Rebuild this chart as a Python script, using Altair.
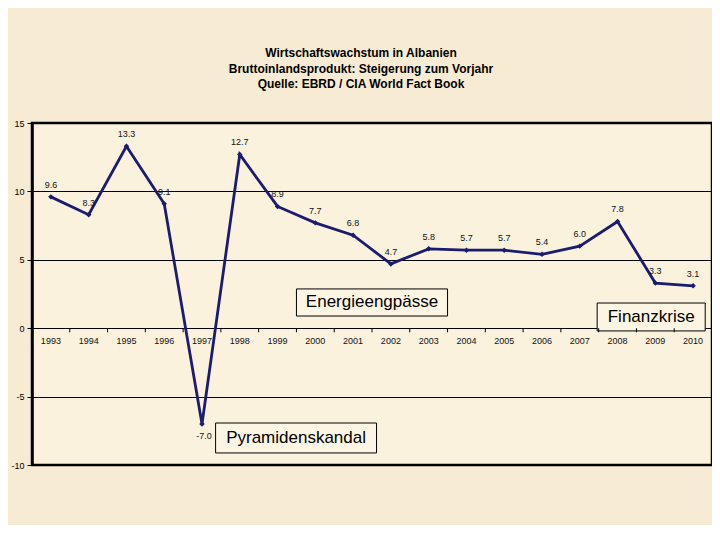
import altair as alt
import pandas as pd

years = list(range(1993, 2011))
growth = [9.6, 8.3, 13.3, 9.1, -7.0, 12.7, 8.9, 7.7, 6.8, 4.7, 5.8, 5.7, 5.7, 5.4, 6.0, 7.8, 3.3, 3.1]
tick_positions = [y + 0.5 for y in range(1992, 2011)]

notes = ["Energieengpässe", "Finanzkrise", "Pyramidenskandal"]
note_x1 = [1999.5, 2007.46, 1997.36]
note_x2 = [2003.5, 2010.32, 2001.62]
note_y1 = [2.87, 1.84, -6.93]
note_y2 = [0.89, -0.2, -9.12]

df = pd.DataFrame({"year": years, "value": growth,
                   "label": [f"{v:.1f}" for v in growth],
                   "ylab": [str(y) for y in years]})
df["zero"] = 0.0
ticks = pd.DataFrame({"pos": tick_positions, "ya": 0.0, "yb": -0.3})
nd = pd.DataFrame({"note": notes, "xa": note_x1, "xb": note_x2, "ya": note_y1, "yb": note_y2})
nd["xc"] = (nd["xa"] + nd["xb"]) / 2
nd["yc"] = (nd["ya"] + nd["yb"]) / 2

xs = alt.Scale(domain=[1992.5, 2010.5], nice=False, zero=False)
ys = alt.Scale(domain=[-10, 15], nice=False)
FONT = "Liberation Sans"
NAVY = "#1B1B70"

base = alt.Chart(df)

line = base.mark_line(color=NAVY, strokeWidth=2.8).encode(
    x=alt.X("year:Q", scale=xs, axis=None),
    y=alt.Y("value:Q", scale=ys, title=None,
            axis=alt.Axis(values=[-10, -5, 0, 5, 10, 15], grid=True, gridColor="black",
                          gridWidth=1, gridOpacity=1, domainColor="black", domainWidth=2.5,
                          tickColor="black", tickSize=5, labelFont=FONT, labelFontSize=9,
                          labelColor="black", labelPadding=3,
                          labelExpr="toString(datum.value)")),
)
pts = base.mark_point(shape="diamond", filled=True, color=NAVY, size=30, opacity=1).encode(
    x=alt.X("year:Q", scale=xs, axis=None), y=alt.Y("value:Q", scale=ys))

lab_pos = base.transform_filter("datum.value >= 0").mark_text(
    font=FONT, fontSize=9, color="#111111", dy=-12).encode(
    x=alt.X("year:Q", scale=xs, axis=None), y=alt.Y("value:Q", scale=ys), text="label:N")
lab_neg = base.transform_filter("datum.value < 0").mark_text(
    font=FONT, fontSize=9, color="#111111", dy=12, dx=2).encode(
    x=alt.X("year:Q", scale=xs, axis=None), y=alt.Y("value:Q", scale=ys), text="label:N")

year_labels = base.mark_text(font=FONT, fontSize=9, color="#111111", dy=13).encode(
    x=alt.X("year:Q", scale=xs, axis=None), y=alt.Y("zero:Q", scale=ys), text="ylab:N")

tick_rules = alt.Chart(ticks).mark_rule(color="black", strokeWidth=1).encode(
    x=alt.X("pos:Q", scale=xs, axis=None), y=alt.Y("ya:Q", scale=ys), y2="yb:Q")

boxes = alt.Chart(nd).mark_rect(fill="#FCF5E4", stroke="black", strokeWidth=1).encode(
    x=alt.X("xa:Q", scale=xs, axis=None), x2="xb:Q", y=alt.Y("ya:Q", scale=ys), y2="yb:Q")
box_text = alt.Chart(nd).mark_text(font=FONT, fontSize=17, color="black").encode(
    x=alt.X("xc:Q", scale=xs, axis=None), y=alt.Y("yc:Q", scale=ys), text="note:N")

chart = alt.layer(boxes, line, pts, lab_pos, lab_neg, year_labels, tick_rules, box_text).properties(
    width=680, height=342,
    title=alt.TitleParams(
        text=["Wirtschaftswachstum in Albanien",
              "Bruttoinlandsprodukt: Steigerung zum Vorjahr",
              "Quelle: EBRD / CIA World Fact Book"],
        font=FONT, fontSize=12, fontWeight="bold", color="black",
        anchor="middle", lineHeight=15.5, offset=28, dx=-11),
    autosize=alt.AutoSizeParams(type="none"),
    padding={"left": 24, "top": 115, "right": 0, "bottom": 60},
    background="#F7ECD3",
).configure_view(
    stroke="black", strokeWidth=2.5, fill="#FBF2DE"
)

chart.save("out.html", embed_options={"renderer": "svg", "actions": False})
